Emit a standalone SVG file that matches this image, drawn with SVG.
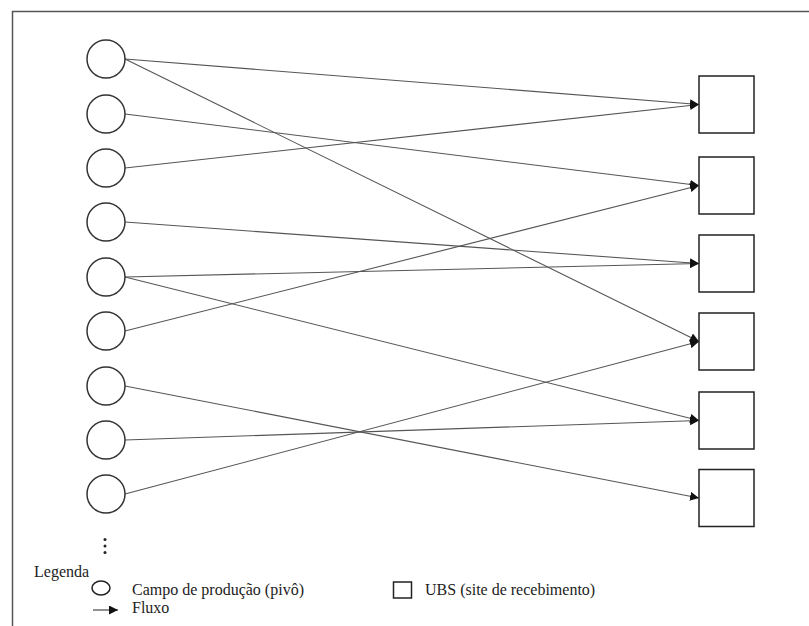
<svg xmlns="http://www.w3.org/2000/svg" width="809" height="626" viewBox="0 0 809 626">
<defs>
<style>
.pivo{fill:#fff;stroke:#333;stroke-width:1.5}
.ubs{fill:#fff;stroke:#222;stroke-width:1.5}
.flow{fill:none;stroke:#555;stroke-width:1.1;marker-end:url(#arr)}
</style>
<marker id="arr" viewBox="0 0 10 10" refX="10" refY="5" markerWidth="9" markerHeight="9" markerUnits="userSpaceOnUse" orient="auto">
<path d="M0,0 L10,5 L0,10 z" fill="#111"/>
</marker>
</defs>
<rect x="0" y="0" width="809" height="626" fill="#fff"/>
<path d="M12.5,626 V11.5 H809" fill="none" stroke="#555" stroke-width="1.5"/>

<g id="connectors">
<line class="flow" x1="125" y1="59" x2="699" y2="104.5"/>
<line class="flow" x1="125" y1="59" x2="699" y2="341.5"/>
<line class="flow" x1="125" y1="114" x2="699" y2="185.5"/>
<line class="flow" x1="125" y1="168" x2="699" y2="104.5"/>
<line class="flow" x1="125" y1="222" x2="699" y2="263.5"/>
<line class="flow" x1="125" y1="277" x2="699" y2="263.5"/>
<line class="flow" x1="125" y1="277" x2="699" y2="420.5"/>
<line class="flow" x1="125" y1="331" x2="699" y2="185.5"/>
<line class="flow" x1="125" y1="386" x2="699" y2="498"/>
<line class="flow" x1="125" y1="440" x2="699" y2="420.5"/>
<line class="flow" x1="125" y1="494" x2="699" y2="341.5"/>
</g>

<g id="pivo1"><circle class="pivo" cx="106" cy="59" r="19"/></g>
<g id="pivo2"><circle class="pivo" cx="106" cy="114" r="19"/></g>
<g id="pivo3"><circle class="pivo" cx="106" cy="168" r="19"/></g>
<g id="pivo4"><circle class="pivo" cx="106" cy="222" r="19"/></g>
<g id="pivo5"><circle class="pivo" cx="106" cy="277" r="19"/></g>
<g id="pivo6"><circle class="pivo" cx="106" cy="331" r="19"/></g>
<g id="pivo7"><circle class="pivo" cx="106" cy="386" r="19"/></g>
<g id="pivo8"><circle class="pivo" cx="106" cy="440" r="19"/></g>
<g id="pivo9"><circle class="pivo" cx="106" cy="494" r="19"/></g>

<g id="ubs1"><rect class="ubs" x="699" y="76" width="55" height="57"/></g>
<g id="ubs2"><rect class="ubs" x="699" y="157" width="55" height="57"/></g>
<g id="ubs3"><rect class="ubs" x="699" y="235" width="55" height="57"/></g>
<g id="ubs4"><rect class="ubs" x="699" y="313" width="55" height="57"/></g>
<g id="ubs5"><rect class="ubs" x="699" y="392" width="55" height="57"/></g>
<g id="ubs6"><rect class="ubs" x="699" y="469.5" width="55" height="57"/></g>

<g id="more" fill="#222">
<circle cx="105" cy="539.5" r="1.5"/>
<circle cx="105" cy="546" r="1.5"/>
<circle cx="105" cy="552.5" r="1.5"/>
</g>

<g id="legend" font-family="'Liberation Serif', 'DejaVu Serif', 'Times New Roman', serif" font-size="16" fill="#222">
<text x="34" y="577">Legenda</text>
<ellipse cx="101" cy="588" rx="9" ry="7" fill="#fff" stroke="#222" stroke-width="1.5"/>
<text x="132" y="595">Campo de produção (pivô)</text>
<line x1="93" y1="610" x2="118" y2="610" stroke="#222" stroke-width="1" marker-end="url(#arr)"/>
<text x="132" y="613">Fluxo</text>
<rect x="393.5" y="582" width="18" height="16" fill="#fff" stroke="#222" stroke-width="1.5"/>
<text x="425" y="595">UBS (site de recebimento)</text>
</g>
</svg>
